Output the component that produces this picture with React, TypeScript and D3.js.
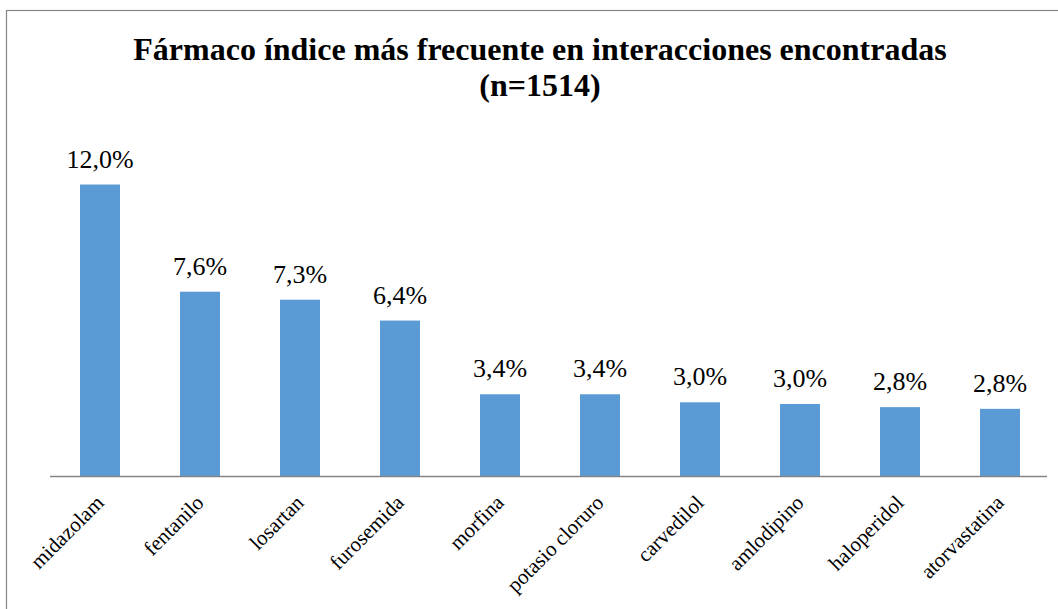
import React, { useEffect, useRef } from "react";
import * as d3 from "d3";

const categories = [
  "midazolam",
  "fentanilo",
  "losartan",
  "furosemida",
  "morfina",
  "potasio cloruro",
  "carvedilol",
  "amlodipino",
  "haloperidol",
  "atorvastatina",
];
const values = [12.02, 7.6, 7.27, 6.41, 3.37, 3.37, 3.04, 2.97, 2.84, 2.77];
const titleLines = ["Fármaco índice más frecuente en interacciones encontradas", "(n=1514)"];

const App = () => {
  const ref = useRef<SVGSVGElement>(null);

  useEffect(() => {
    const width = 1058;
    const height = 609;
    const baseY = 476;
    const font = "Liberation Serif, Times New Roman, serif";

    const svg = d3.select(ref.current);
    svg.selectAll("*").remove();

    svg.append("rect")
      .attr("x", 6.5)
      .attr("y", 10.5)
      .attr("width", width + 20)
      .attr("height", height + 20)
      .attr("fill", "white")
      .attr("stroke", "#868686")
      .attr("stroke-width", 1.2);

    svg.append("text")
      .attr("x", 540)
      .attr("y", 60)
      .attr("text-anchor", "middle")
      .attr("font-family", font)
      .attr("font-weight", "bold")
      .attr("font-size", 32)
      .selectAll("tspan")
      .data(titleLines)
      .join("tspan")
      .attr("x", 540)
      .attr("dy", (d, i) => (i === 0 ? 0 : 36))
      .text((d) => d);

    const x = d3.scaleBand().domain(categories).range([50, 1050]).paddingInner(0.6).paddingOuter(0.3);
    const y = d3.scaleLinear().domain([0, 14]).range([baseY, baseY - 14 * 24.25]);

    const data = categories.map((c, i) => ({ c, v: values[i] }));

    svg.selectAll("rect.bar")
      .data(data)
      .join("rect")
      .attr("class", "bar")
      .attr("x", (d) => x(d.c)!)
      .attr("y", (d) => y(d.v))
      .attr("width", x.bandwidth())
      .attr("height", (d) => baseY - y(d.v))
      .attr("fill", "#5B9BD5");

    svg.selectAll("text.val")
      .data(data)
      .join("text")
      .attr("class", "val")
      .attr("x", (d) => x(d.c)! + x.bandwidth() / 2)
      .attr("y", (d) => y(d.v) - 17)
      .attr("text-anchor", "middle")
      .attr("font-family", font)
      .attr("font-size", 26)
      .text((d) => d.v.toFixed(1).replace(".", ",") + "%");

    svg.append("line")
      .attr("x1", 50)
      .attr("x2", 1047)
      .attr("y1", baseY + 0.5)
      .attr("y2", baseY + 0.5)
      .attr("stroke", "#868686")
      .attr("stroke-width", 1.3);

    svg.selectAll("text.cat")
      .data(data)
      .join("text")
      .attr("class", "cat")
      .attr("text-anchor", "end")
      .attr("font-family", font)
      .attr("font-size", 21)
      .attr("transform", (d) => `translate(${x(d.c)! + x.bandwidth() / 2 + 5},${baseY + 28}) rotate(-45)`)
      .text((d) => d.c);
  }, []);

  return (
    <svg
      ref={ref}
      width={1058}
      height={609}
      style={{ position: "absolute", left: 0, top: 0, background: "white" }}
    />
  );
};

export default App;
